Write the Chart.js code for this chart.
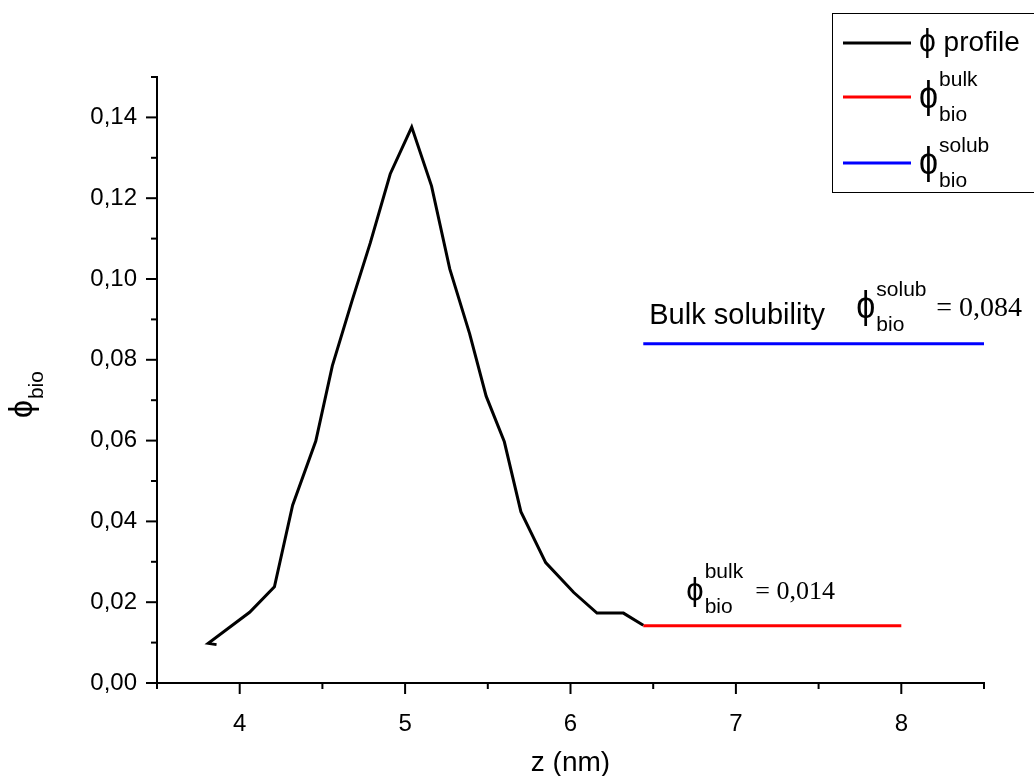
<!DOCTYPE html>
<html>
<head>
<meta charset="utf-8">
<script src="https://cdn.jsdelivr.net/npm/chart.js@4/dist/chart.umd.min.js"></script>
<style>
  html, body { margin: 0; padding: 0; background: #fff; }
  canvas { display: block; }
</style>
</head>
<body>
<canvas id="phiChart" width="1034" height="776"></canvas>
<script>
// Concentration profile phi_bio(z) with bulk and solubility reference levels.

// ---- data ------------------------------------------------------------------
const zProfile = [3.86, 3.81, 4.06, 4.21, 4.32, 4.46, 4.56, 4.68, 4.79, 4.91, 5.04,
                  5.16, 5.27, 5.39, 5.49, 5.60, 5.70, 5.85, 6.02, 6.16, 6.32, 6.44];
const phiProfile = [0.0095, 0.0098, 0.0175, 0.0238, 0.0440, 0.0599, 0.0785, 0.0947, 0.1090, 0.1260, 0.1376,
                    0.1230, 0.1025, 0.0865, 0.0710, 0.0597, 0.0424, 0.0298, 0.0224, 0.0173, 0.0173, 0.0143];

const zBulk = [6.44, 8.0];
const phiBulk = 0.0142;
const zSolub = [6.44, 8.5];
const phiSolub = 0.084;

const xRange = [3.5, 8.5];
const yRange = [0, 0.15];

const SANS = 'Arial, "Liberation Sans", sans-serif';
const SERIF = '"Times New Roman", "Liberation Serif", serif';
const PHI = '\u03D5';

// straight-stroke phi, a bit taller than the text like the Symbol-font one
function phiGlyph(ctx, x, y, size, stretch) {
    ctx.save();
    ctx.font = size + 'px ' + SANS;
    ctx.translate(x, y);
    ctx.scale(1, stretch);
    ctx.fillText(PHI, 0, 0);
    const w = ctx.measureText(PHI).width;
    ctx.restore();
    return w;
}

// phi with superscript / subscript; x,y = phi baseline start
function drawPhi(ctx, x, y, sup, sub, size, stretch) {
    const w = phiGlyph(ctx, x, y, size, stretch);
    ctx.font = '21px ' + SANS;
    ctx.fillText(sup, x + w + 1, y - 22);
    ctx.fillText(sub, x + w + 1, y + 13);
}

const decorations = {
    id: 'decorations',
    afterDraw(chart) {
        const ctx = chart.ctx;
        const xs = chart.scales.x;
        const ys = chart.scales.y;
        const area = chart.chartArea;
        ctx.save();
        ctx.strokeStyle = '#000';
        ctx.fillStyle = '#000';
        ctx.lineWidth = 2;

        // tick marks: long at labelled values, short in between
        xs.ticks.forEach(t => {
            const px = xs.getPixelForValue(t.value);
            const len = Number.isInteger(Math.round(t.value * 1000) / 1000) ? 11 : 6;
            ctx.beginPath();
            ctx.moveTo(px, area.bottom);
            ctx.lineTo(px, area.bottom + len);
            ctx.stroke();
        });
        ys.ticks.forEach(t => {
            const py = ys.getPixelForValue(t.value);
            const len = Math.round(t.value * 100) % 2 === 0 ? 11 : 6;
            ctx.beginPath();
            ctx.moveTo(area.left, py);
            ctx.lineTo(area.left - len, py);
            ctx.stroke();
        });

        ctx.textAlign = 'left';
        ctx.textBaseline = 'alphabetic';

        // axis titles
        ctx.font = '28px ' + SANS;
        ctx.textAlign = 'center';
        ctx.fillText('z (nm)', (area.left + area.right) / 2, 771);
        ctx.textAlign = 'left';

        ctx.save();
        ctx.translate(32, 418);
        ctx.rotate(-Math.PI / 2);
        const pw = phiGlyph(ctx, 0, 0, 32, 1.05);
        ctx.font = '21px ' + SANS;
        ctx.fillText('bio', pw + 1, 11);
        ctx.restore();

        // annotation: bulk solubility
        const sx = xs.getPixelForValue(zSolub[0]);
        const sy = ys.getPixelForValue(phiSolub);
        ctx.font = '29px ' + SANS;
        ctx.fillText('Bulk solubility', sx + 6, sy - 20);
        drawPhi(ctx, sx + 213, sy - 26, 'solub', 'bio', 34, 1.15);
        ctx.font = '28px ' + SERIF;
        ctx.fillText('= 0,084', sx + 293, sy - 28);

        // annotation: bulk
        const bx = xs.getPixelForValue(zBulk[0]);
        const by = ys.getPixelForValue(phiBulk);
        drawPhi(ctx, bx + 43, by - 26, 'bulk', 'bio', 31, 1.0);
        ctx.font = '26px ' + SERIF;
        ctx.fillText('= 0,014', bx + 112, by - 27);

        // legend box (runs off the right edge like the original)
        ctx.lineWidth = 1;
        ctx.strokeRect(832.5, 13.5, 220, 179);
        const entries = [
            { color: chart.data.datasets[0].borderColor, y: 43 },
            { color: chart.data.datasets[1].borderColor, y: 97 },
            { color: chart.data.datasets[2].borderColor, y: 163 }
        ];
        ctx.lineWidth = 3;
        entries.forEach(e => {
            ctx.strokeStyle = e.color;
            ctx.beginPath();
            ctx.moveTo(843, e.y);
            ctx.lineTo(911, e.y);
            ctx.stroke();
        });
        const lw = phiGlyph(ctx, 919, 51, 30, 1.05);
        ctx.font = '28px ' + SANS;
        ctx.fillText(' profile', 919 + lw, 51);
        drawPhi(ctx, 919, 108, 'bulk', 'bio', 34, 1.15);
        drawPhi(ctx, 919, 174, 'solub', 'bio', 34, 1.15);

        ctx.restore();
    }
};

const chart = new Chart(document.getElementById('phiChart').getContext('2d'), {
    type: 'scatter',
    data: {
        datasets: [
            {
                label: PHI + ' profile',
                data: zProfile.map((z, i) => ({ x: z, y: phiProfile[i] })),
                showLine: true,
                borderColor: '#000000',
                borderWidth: 3,
                pointRadius: 0,
                tension: 0
            },
            {
                label: PHI + ' bulk',
                data: zBulk.map(z => ({ x: z, y: phiBulk })),
                showLine: true,
                borderColor: '#ff0000',
                borderWidth: 3,
                pointRadius: 0
            },
            {
                label: PHI + ' solub',
                data: zSolub.map(z => ({ x: z, y: phiSolub })),
                showLine: true,
                borderColor: '#0000ff',
                borderWidth: 3,
                pointRadius: 0
            }
        ]
    },
    options: {
        responsive: false,
        animation: false,
        layout: { padding: { top: 77, right: 50, left: 0, bottom: 0 } },
        plugins: {
            legend: { display: false },
            tooltip: { enabled: false }
        },
        scales: {
            x: {
                type: 'linear',
                min: xRange[0],
                max: xRange[1],
                grid: { display: false, drawTicks: false },
                border: { display: true, color: '#000', width: 2 },
                ticks: {
                    stepSize: 0.5,
                    autoSkip: false,
                    maxRotation: 0,
                    padding: 27,
                    color: '#000',
                    font: { family: SANS, size: 24 },
                    callback: v => Number.isInteger(Math.round(v * 1000) / 1000) ? String(Math.round(v)) : ''
                },
                afterFit(scale) { scale.height = 93; }
            },
            y: {
                type: 'linear',
                min: yRange[0],
                max: yRange[1],
                grid: { display: false, drawTicks: false },
                border: { display: true, color: '#000', width: 2 },
                ticks: {
                    stepSize: 0.01,
                    autoSkip: false,
                    padding: 20,
                    color: '#000',
                    font: { family: SANS, size: 24 },
                    callback: v => Math.round(v * 100) % 2 === 0 ? v.toFixed(2).replace('.', ',') : ''
                },
                afterFit(scale) { scale.width = 157; }
            }
        }
    },
    plugins: [decorations]
});
</script>
</body>
</html>
